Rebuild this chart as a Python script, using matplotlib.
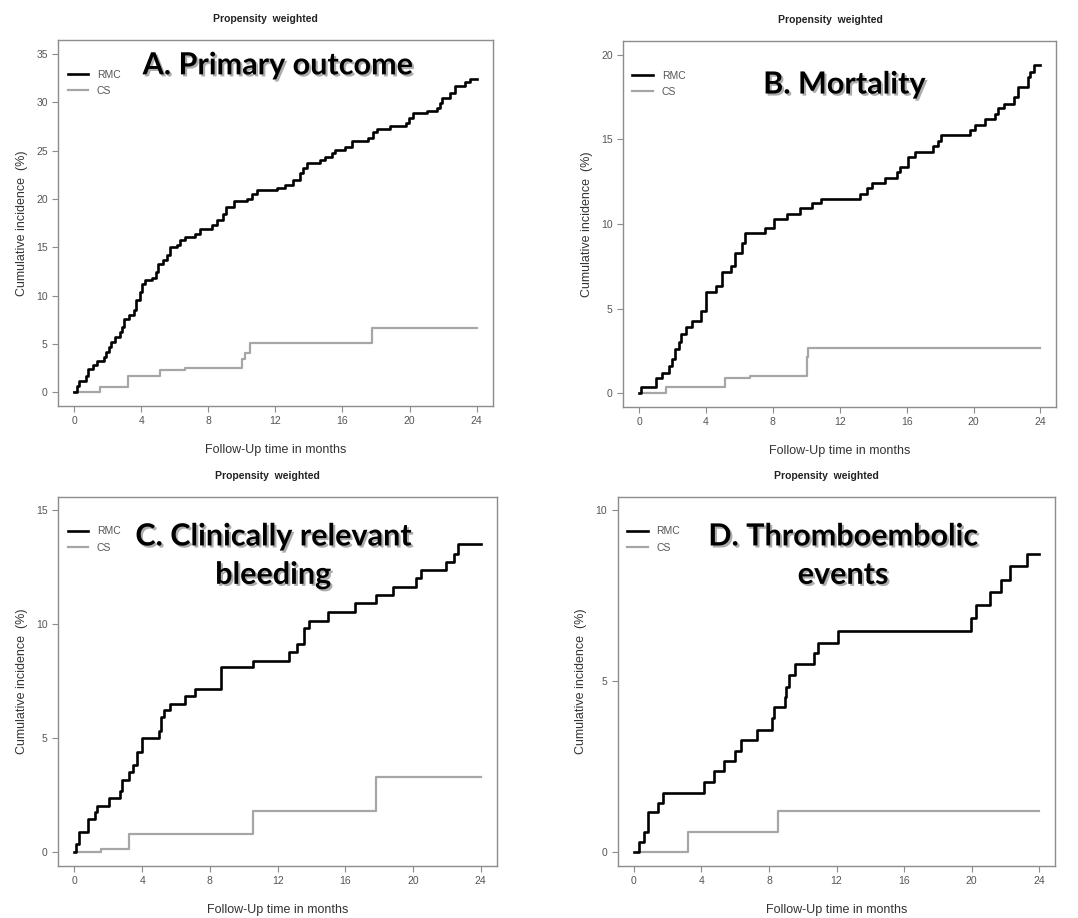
import matplotlib
import matplotlib.pyplot as plt
import matplotlib.patheffects as pe

''' Four-panel cumulative incidence curves (RMC vs CS), propensity weighted '''

matplotlib.use('Agg')
plt.rcParams['font.family'] = ['Liberation Sans', 'DejaVu Sans']

# panel A: primary outcome
a_rmc_t = [0, 0.16, 0.30, 0.72, 0.79, 1.11, 1.35, 1.75, 1.91, 2.05, 2.19, 2.44, 2.70, 2.84, 2.98,
           3.24, 3.54, 3.70, 3.93, 4.03, 4.23, 4.63, 4.89, 4.97, 5.32, 5.52, 5.72, 6.12, 6.32,
           6.62, 7.21, 7.51, 8.21, 8.50, 8.86, 9.06, 9.50, 10.29, 10.59, 10.89, 12.08, 12.58,
           13.07, 13.47, 13.67, 13.87, 14.66, 14.96, 15.36, 15.56, 16.15, 16.55, 17.54, 17.80,
           18.04, 18.84, 19.79, 19.99, 20.23, 21.02, 21.62, 21.82, 21.92, 22.41, 22.71, 23.31,
           23.60, 24.0]
a_rmc_y = [0, 0.69, 1.21, 1.73, 2.42, 2.83, 3.28, 3.63, 4.15, 4.66, 5.18, 5.70, 6.22, 6.74, 7.53,
           8.02, 8.47, 9.50, 10.37, 11.23, 11.58, 11.82, 12.44, 13.30, 13.65, 14.17, 15.03, 15.27,
           15.72, 16.07, 16.41, 16.86, 17.28, 17.80, 18.49, 19.18, 19.76, 20.04, 20.46, 20.90,
           21.15, 21.42, 21.94, 22.63, 23.15, 23.74, 24.01, 24.36, 24.71, 25.05, 25.40, 25.98,
           26.33, 26.95, 27.23, 27.54, 27.88, 28.33, 28.85, 29.09, 29.44, 29.89, 30.41, 30.93,
           31.72, 32.07, 32.38, 32.38]
a_cs_t = [0, 1.55, 3.20, 5.13, 6.62, 9.99, 10.19, 10.49, 17.74, 24.0]
a_cs_y = [0, 0.52, 1.73, 2.25, 2.49, 3.46, 4.08, 5.11, 6.63, 6.63]

# panel B: mortality
b_rmc_t = [0, 0.10, 0.99, 1.39, 1.79, 1.99, 2.15, 2.38, 2.48, 2.78, 3.14, 3.68, 3.97, 4.57, 4.97,
           5.52, 5.76, 6.16, 6.36, 7.55, 8.05, 8.84, 9.64, 10.33, 10.89, 13.21, 13.61, 13.91,
           14.70, 15.40, 15.60, 16.09, 16.49, 17.58, 17.88, 18.03, 19.77, 20.07, 20.66, 21.26,
           21.46, 21.82, 22.41, 22.65, 23.25, 23.40, 23.64, 24.0]
b_rmc_y = [0, 0.34, 0.89, 1.22, 1.62, 2.01, 2.60, 3.00, 3.49, 3.89, 4.28, 4.87, 6.00, 6.31, 7.14,
           7.53, 8.28, 8.88, 9.45, 9.74, 10.30, 10.59, 10.93, 11.22, 11.48, 11.78, 12.11, 12.41,
           12.70, 13.06, 13.35, 13.94, 14.28, 14.64, 14.93, 15.27, 15.58, 15.86, 16.21, 16.51,
           16.84, 17.10, 17.50, 18.09, 18.68, 19.01, 19.37, 19.37]
b_cs_t = [0.10, 1.59, 5.13, 6.62, 10.03, 10.13, 24.0]
b_cs_y = [0, 0.39, 0.87, 0.99, 2.11, 2.64, 2.64]

# panel C: clinically relevant bleeding
c_rmc_t = [0, 0.12, 0.28, 0.79, 1.24, 1.34, 2.03, 2.68, 2.82, 3.21, 3.47, 3.70, 4.00, 4.99, 5.14,
           5.28, 5.67, 6.52, 7.11, 8.67, 10.54, 12.67, 13.16, 13.56, 13.85, 14.98, 16.55, 17.79,
           18.84, 20.16, 20.49, 21.93, 22.42, 22.66, 24.0]
c_rmc_y = [0, 0.34, 0.89, 1.46, 1.75, 2.04, 2.35, 2.67, 3.18, 3.52, 3.81, 4.39, 5.00, 5.33, 5.92,
           6.22, 6.51, 6.87, 7.16, 8.10, 8.40, 8.77, 9.12, 9.82, 10.16, 10.55, 10.91, 11.28,
           11.64, 12.01, 12.37, 12.74, 13.10, 13.50, 13.50]
c_cs_t = [0.16, 1.54, 3.21, 10.54, 17.79, 24.0]
c_cs_y = [0, 0.12, 0.77, 1.80, 3.28, 3.28]

# panel D: thromboembolic events
d_rmc_t = [0, 0.33, 0.59, 0.83, 1.42, 1.71, 4.13, 4.76, 5.35, 6.00, 6.33, 7.31, 8.20, 8.30, 8.92,
           8.98, 9.18, 9.53, 10.65, 10.90, 12.10, 19.98, 20.28, 21.06, 21.75, 22.25, 23.27, 24.0]
d_rmc_y = [0, 0.29, 0.60, 1.16, 1.43, 1.72, 2.04, 2.36, 2.65, 2.96, 3.27, 3.57, 3.91, 4.23, 4.55,
           4.84, 5.18, 5.49, 5.81, 6.13, 6.47, 6.85, 7.22, 7.61, 7.97, 8.36, 8.73, 8.73]
d_cs_t = [0.24, 3.18, 8.53, 24.0]
d_cs_y = [0, 0.60, 1.19, 1.19]

panel_titles = ['A. Primary outcome', 'B. Mortality',
                'C. Clinically relevant\nbleeding', 'D. Thromboembolic\nevents']
y_max = [35, 20, 15, 10]
y_step = [5, 5, 5, 5]
x_ticks = [0, 4, 8, 12, 16, 20, 24]

# axes boxes in figure fractions
positions = [[0.054, 0.558, 0.403, 0.398],
             [0.578, 0.557, 0.402, 0.398],
             [0.054, 0.057, 0.407, 0.402],
             [0.573, 0.057, 0.406, 0.402]]
# where the big panel label sits (axes fraction)
label_pos = [(0.505, 0.97), (0.51, 0.92), (0.49, 0.93), (0.515, 0.93)]

series = [(a_rmc_t, a_rmc_y, a_cs_t, a_cs_y),
          (b_rmc_t, b_rmc_y, b_cs_t, b_cs_y),
          (c_rmc_t, c_rmc_y, c_cs_t, c_cs_y),
          (d_rmc_t, d_rmc_y, d_cs_t, d_cs_y)]

axis_grey = '#8c8c8c'
text_grey = '#555555'

fig = plt.figure(figsize=(10.78, 9.18), dpi=100)

for i, (rt, ry, ct, cy) in enumerate(series):
    ax = fig.add_axes(positions[i])
    ax.step(ct, cy, where='post', color='#a6a6a6', lw=1.6, label='CS', zorder=2)
    ax.step(rt, ry, where='post', color='black', lw=1.9, label='RMC', zorder=3)

    ax.set_xlim(-0.96, 24.96)
    ax.set_ylim(-0.04 * y_max[i], 1.04 * y_max[i])
    ax.set_xticks(x_ticks)
    ax.set_yticks(range(0, y_max[i] + 1, y_step[i]))
    ax.tick_params(colors=axis_grey, labelcolor=text_grey, labelsize=7.5, length=4, width=0.8)
    for s in ax.spines.values():
        s.set_color(axis_grey)
        s.set_linewidth(1.0)

    ax.set_xlabel('Follow-Up time in months', fontsize=9, color='#333333', labelpad=13)
    ax.set_ylabel('Cumulative incidence  (%)', fontsize=9, color='#333333', labelpad=6)
    ax.set_title('Propensity  weighted', fontsize=7.5, fontweight='bold', color='#222222',
                 pad=13, x=0.478)

    # legend: RMC first, CS second
    h, l = ax.get_legend_handles_labels()
    leg = ax.legend(h[::-1], l[::-1], loc='upper left', frameon=False, fontsize=7.5,
                    handlelength=2.0, labelspacing=0.6, bbox_to_anchor=(0.0, 0.945))
    for t in leg.get_texts():
        t.set_color(text_grey)

    ax.text(label_pos[i][0], label_pos[i][1], panel_titles[i], transform=ax.transAxes,
            ha='center', va='top', family=['Lato', 'DejaVu Sans'], fontweight='bold',
            fontsize=22, linespacing=1.45, color='black',
            path_effects=[pe.SimplePatchShadow(offset=(1.5, -1.5), shadow_rgbFace='#777777', alpha=0.6),
                          pe.Normal()])

plt.savefig('out.png', dpi=100)
